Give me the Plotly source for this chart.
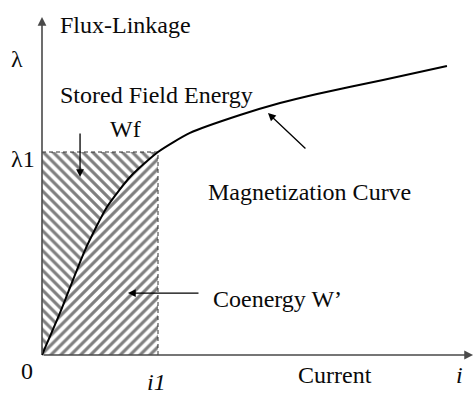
import plotly.graph_objects as go

# Magnetization curve (current i, flux-linkage lambda); i1 = 1, lambda1 = 1
current = [0.0, 0.155, 0.371, 0.56, 0.759, 1.0, 1.276, 1.707, 2.052, 2.371, 2.94, 3.491]
flux = [0.0, 0.207, 0.517, 0.729, 0.877, 1.0, 1.094, 1.182, 1.241, 1.286, 1.355, 1.424]
i1 = 1.0
lam1 = 1.0
x_axis_end = 3.716
y_axis_end = 1.665

inner_i = [c for c in current if c <= i1]
inner_l = [f for c, f in zip(current, flux) if c <= i1]

FONT = "Liberation Serif, Times New Roman, serif"
TXT = "#0a0a0a"
AX = "#4a4a4a"

fig = go.Figure()

# Stored field energy region (above curve)
fig.add_trace(go.Scatter(
    x=inner_i + [0.0, 0.0], y=inner_l + [lam1, 0.0],
    mode="lines", fill="toself", line=dict(width=0), hoverinfo="skip",
    fillcolor="white",
    fillpattern=dict(shape="\\", size=7, solidity=0.45, fgcolor="black", bgcolor="white"),
))
# Coenergy region (below curve)
fig.add_trace(go.Scatter(
    x=inner_i + [i1, 0.0], y=inner_l + [0.0, 0.0],
    mode="lines", fill="toself", line=dict(width=0), hoverinfo="skip",
    fillcolor="white",
    fillpattern=dict(shape="/", size=7, solidity=0.45, fgcolor="black", bgcolor="white"),
))
# Dashed rectangle edges
fig.add_trace(go.Scatter(
    x=[0.0, i1, i1], y=[lam1, lam1, 0.0], mode="lines",
    line=dict(color="#333333", width=1, dash="4px,3px"), hoverinfo="skip",
))
# Magnetization curve
fig.add_trace(go.Scatter(
    x=current, y=flux, mode="lines",
    line=dict(color="black", width=2, shape="spline", smoothing=0.6), hoverinfo="skip",
))

def arrow(x, y, ax, ay, color="black", width=1.3, head=2, size=1.2):
    fig.add_annotation(x=x, y=y, ax=ax, ay=ay, xref="x", yref="y", axref="x", ayref="y",
                       text="", showarrow=True, arrowhead=head, arrowsize=size,
                       arrowwidth=width, arrowcolor=color, standoff=0, startstandoff=0)

# Axes
arrow(x_axis_end, 0.0, 0.0, 0.0, color=AX, width=1.6, head=2, size=1.1)
arrow(0.0, y_axis_end, 0.0, 0.0, color=AX, width=1.6, head=2, size=1.1)
# Pointers
arrow(0.328, 0.877, 0.328, 1.099)
arrow(1.948, 1.192, 2.284, 1.010)
arrow(0.741, 0.305, 1.362, 0.305)

def label(text, x, y, size=24):
    fig.add_annotation(x=x, y=y, xref="x", yref="y", text=text, showarrow=False,
                       font=dict(family=FONT, size=size, color=TXT),
                       xanchor="center", yanchor="middle")

label("Flux-Linkage", 0.716, 1.625)
label("λ", -0.216, 1.458)
label("Stored Field Energy", 0.983, 1.281)
label("Wf", 0.724, 1.113)
label("λ1", -0.164, 0.965)
label("Magnetization Curve", 2.310, 0.803)
label("Coenergy W’", 2.034, 0.276)
label("0", -0.129, -0.079)
label("<i>i1</i>", 0.991, -0.133)
label("Current", 2.526, -0.099)
label("<i>i</i>", 3.603, -0.099)

fig.update_xaxes(range=[-42 / 116, (475 - 42) / 116], visible=False, showgrid=False, zeroline=False)
fig.update_yaxes(range=[(355 - 394) / 203, 355 / 203], visible=False, showgrid=False, zeroline=False)
fig.update_layout(width=475, height=394, margin=dict(l=0, r=0, t=0, b=0),
                  paper_bgcolor="white", plot_bgcolor="white", showlegend=False)

fig.write_html("out.html")
